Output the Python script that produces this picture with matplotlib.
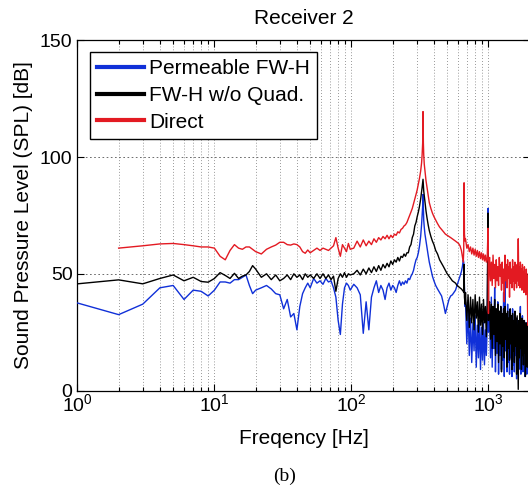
import numpy as np
import matplotlib
matplotlib.use("Agg")
import matplotlib.pyplot as plt
from matplotlib.lines import Line2D

plt.rcParams['font.family'] = ['Liberation Sans', 'DejaVu Sans']
plt.rcParams['font.size'] = 14
plt.rcParams['mathtext.fontset'] = 'custom'
plt.rcParams['mathtext.rm'] = 'Liberation Sans'

# ---------------- data ----------------
FREQ = [
    # 1-20 Hz
    1, 2, 3, 4, 5, 6, 7, 8, 9, 10, 11, 12, 13, 14, 15, 16, 17, 18, 19, 20,
    # 20-100 Hz
    22, 24, 26, 28, 30, 32, 34, 36, 38, 40, 42, 44, 46, 48, 50, 53, 56, 59, 62, 65,
    68, 71, 74, 77, 80, 83, 86, 89, 92, 95, 98,
    # 100-300 Hz
    104, 110, 116, 122, 128, 134, 140, 146, 152, 158, 164, 170, 176, 182, 188, 194,
    200, 206, 212, 218, 224, 230, 236, 242, 248, 254, 260, 266, 272, 278, 284, 290, 296,
    # tonal peak and its first harmonic
    302, 308, 314, 320, 325, 328, 331, 333, 335, 337, 340, 344, 350, 356, 363, 370,
    380, 390, 400, 412, 425, 440, 455, 470, 485, 500, 515, 530, 545, 560, 575, 590,
    605, 620, 635, 645, 655, 660, 664, 668, 675,
    # 680-980 Hz
    680, 695, 710, 725, 740, 755, 770, 785, 800, 815, 830, 845, 860, 875, 890, 905,
    920, 935, 950, 965, 980,
    # second harmonic
    993, 1000, 1010,
    # 1-2 kHz
    1020, 1035, 1050, 1065, 1080, 1095, 1110, 1125, 1140, 1155, 1170, 1185, 1200, 1215,
    1230, 1245, 1260, 1275, 1290, 1305, 1320, 1335, 1350, 1365, 1380, 1395, 1410, 1425,
    1440, 1455, 1470, 1485, 1500, 1515, 1530, 1545, 1560, 1575, 1590, 1605, 1620, 1635,
    1650, 1665, 1680, 1695, 1710, 1725, 1740, 1755, 1770, 1785, 1800, 1815, 1830, 1845,
    1860, 1875, 1890, 1905, 1920, 1935, 1950,
]

SPL_PERMEABLE = [
    37.5, 32.5, 37, 44, 45, 39, 43, 42.5, 40.5, 43, 46.5, 46.5, 46, 47.5, 47.5, 48.5, 49.5, 45, 41.5, 43,
    44, 45, 43.5, 41.5, 41, 35, 39, 31.5, 33, 26, 36, 41.5, 44, 46, 44, 48, 46, 47, 45.5, 48,
    46.5, 47, 44, 40, 30, 24, 37, 44, 46, 45, 43,
    45.5, 44, 41, 24.5, 38, 26, 40, 44, 47, 42, 45, 43, 39, 44, 46, 43,
    45, 44, 42, 45, 47, 45, 46.5, 45.5, 47, 46, 48, 47.5, 49, 50, 51.5, 54, 56,
    57, 59, 62, 66, 71, 75, 79, 84, 78, 73, 70, 67, 64, 61, 58, 55,
    52, 49, 47, 45, 43.5, 42, 40.5, 37, 33, 36, 39, 40.5, 41, 42, 43, 45,
    47, 49, 51, 53, 56, 55, 52, 44, 36,
    38, 20, 34, 15, 31, 12, 29, 17, 32, 10, 28, 14, 30, 9, 27, 13,
    29, 11, 26, 15, 28,
    78, 25, 30,
    35, 14, 40, 10, 33, 18, 44, 8, 31, 16, 38, 7, 30, 15,
    36, 9, 29, 13, 42, 6, 56, 17, 32, 8, 37, 12, 30, 7,
    34, 14, 28, 6, 35, 11, 29, 8, 33, 15, 27, 5, 31, 12,
    26, 9, 30, 13, 36, 7, 28, 11, 32, 8, 26, 12, 30, 6,
    27, 10, 29, 7, 25, 9, 24,
]

SPL_NO_QUAD = [
    45.7, 47.4, 45.7, 48, 49.5, 47, 48.5, 46.7, 46.4, 48, 50.5, 49.3, 48, 50.2, 48, 49, 49.5, 51, 53.5, 52,
    48.5, 50, 47.5, 49.5, 47, 48, 49.5, 47.5, 50, 48.5, 49.5, 47.5, 50, 48.5, 49.5, 48, 50, 48, 50, 48,
    49.5, 47.5, 49, 42.5, 48, 50, 48.5, 50.5, 48.5, 50, 49.5,
    50, 51.5, 49.5, 52, 50, 52.5, 50.5, 53, 51, 53.5, 51.5, 54, 52.5, 54.5, 53, 55.5,
    54, 56, 55, 57, 55.5, 57.5, 57, 58.5, 57.5, 59, 59, 61.5, 62.5, 65.5, 67, 70.5, 72,
    74.5, 76.5, 79, 82, 85, 87, 89, 90.5, 88, 85.5, 83.5, 80.5, 77, 74, 71, 68.5,
    66, 64, 62.5, 60, 58.5, 56, 54.5, 53, 51.5, 50, 49, 48, 47, 46.5, 46, 45,
    44.5, 44, 43.5, 43, 42.5, 42, 54, 40, 37,
    42, 30, 41, 27, 40, 29, 39, 26, 41, 31, 38, 25, 40, 28, 37, 24,
    39, 29, 36, 23, 38,
    76, 30, 37,
    38, 22, 37, 18, 36, 24, 39, 15, 35, 21, 37, 12, 34, 20,
    36, 8, 33, 19, 35, 14, 36, 22, 33, 10, 34, 18, 31, 13,
    35, 20, 32, 9, 33, 17, 30, 12, 34, 19, 31, 7, 32, 16,
    0.5, 30, 14, 33, 18, 29, 9, 31, 15, 28, 11, 30, 16, 27,
    6, 29, 13, 26, 10, 28, 14,
]

SPL_DIRECT = [
    np.nan, 61, 62, 62.8, 63, 62.5, 62, 61.5, 61.5, 61, 57.5, 56, 60, 62.5, 61, 60.5, 61.5, 61.5, 60.5, 59.5,
    58.5, 60.5, 61.5, 62.3, 63.5, 63.5, 62.5, 62.3, 62.8, 62.5, 61.5, 59.5, 58.8, 60.2, 59, 60, 61, 60, 61, 60.5,
    60, 61, 62, 65.5, 61, 57.5, 62.5, 61, 59.5, 63, 60.5,
    61, 64, 61.5, 64.5, 62, 64, 62.5, 65, 63.5, 65.5, 64.5, 66, 65, 66.5, 65, 66.5,
    65.5, 67, 66.5, 68, 67.5, 69, 69.5, 70.5, 71, 72, 73.5, 75, 76.5, 78, 80, 82, 84,
    86, 88.5, 91, 94, 97.5, 101, 106, 119.5, 106, 101, 97, 94, 90, 87, 83.5, 80.5,
    78, 76, 74.5, 73, 71.5, 70, 69, 68, 67, 66.5, 66, 65.5, 65, 64.5, 64, 63.5,
    63, 62, 60, 57.5, 55, 60, 89, 67, 64,
    65, 61, 62.5, 59.5, 61.5, 58.5, 61, 58, 60.5, 57.5, 60, 57, 59.5, 56.5, 59, 56,
    58.5, 55.5, 58, 55, 57,
    69.5, 33, 56,
    57, 47, 55, 45, 58, 48, 54, 44, 56, 47, 53, 45, 57, 49,
    54, 43, 55, 46, 52, 38, 58, 47, 54, 44, 56, 48, 53, 40,
    55, 46, 52, 44, 56, 47, 53, 43, 55, 46, 52, 44, 54, 47,
    65, 45, 53, 44, 55, 46, 52, 43, 54, 45, 51, 42, 53, 44,
    50, 41, 52, 43, 49, 28, 50,
]

SERIES = [
    ("Permeable FW-H", SPL_PERMEABLE, "#1030d8"),
    ("FW-H w/o Quad.", SPL_NO_QUAD, "#000000"),
    ("Direct", SPL_DIRECT, "#e31a22"),
]

W, H = 528, 490
fig = plt.figure(figsize=(W / 100, H / 100), dpi=100)
# axes box in pixels: left 77.4, top 40.4, bottom 390.5; right side runs off the picture
ax = fig.add_axes([77.4 / W, (H - 390.5) / H, 452.3 / W, 350.1 / H])

freq = np.asarray(FREQ, dtype=float)
for label, spl, color in SERIES:
    ax.plot(freq, np.asarray(spl, dtype=float), color=color, lw=1.0, zorder=3)

ax.set_xscale("log")
ax.set_xlim(1, 2000)
ax.set_ylim(0, 150)
ax.set_yticks([0, 50, 100, 150])

ax.grid(True, which="both", axis="x", linestyle=(0, (1, 2.5)), color="#777777", lw=0.6)
ax.grid(True, which="major", axis="y", linestyle=(0, (2, 3)), color="#555555", lw=0.6)
ax.tick_params(which="both", direction="in", top=True, right=True, width=0.8)
ax.tick_params(which="major", length=5, pad=3.5)
ax.tick_params(which="minor", length=3)
ax.tick_params(axis="x", which="major", pad=2)
for s in ax.spines.values():
    s.set_linewidth(0.9)

ax.set_title("Receiver 2", fontsize=15, pad=11.8)
ax.set_xlabel("Freqency [Hz]", fontsize=15, labelpad=10)
ax.set_ylabel("Sound Pressure Level (SPL) [dB]", fontsize=15, labelpad=5)

handles = [Line2D([], [], color=c, lw=3) for _, _, c in SERIES]
leg = ax.legend(handles, [s[0] for s in SERIES], loc="upper left",
                bbox_to_anchor=(90 / W, 1 - 52.5 / H), bbox_transform=fig.transFigure,
                borderaxespad=0, fancybox=False, edgecolor="k", framealpha=1,
                handlelength=2.26, handletextpad=0.24, borderpad=0.33, labelspacing=0.37,
                fontsize=15)
leg.get_frame().set_linewidth(1.0)
leg.set_zorder(5)

fig.text(284.5 / W, 1 - 476 / H, "(b)", family=["Liberation Serif", "DejaVu Serif"],
         fontsize=14, ha="center", va="center")

fig.savefig("out.png", dpi=100)
